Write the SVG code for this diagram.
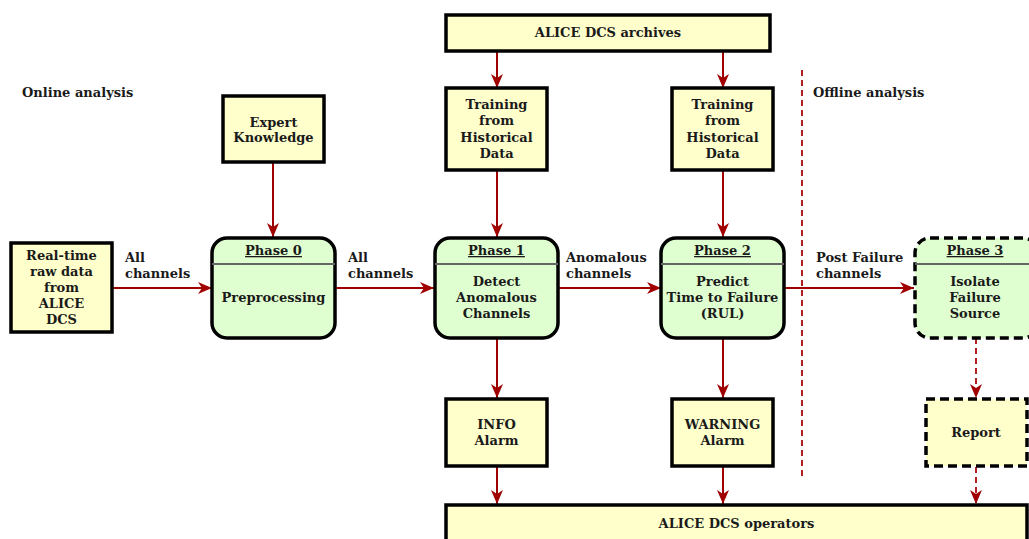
<svg xmlns="http://www.w3.org/2000/svg" width="1029" height="539" viewBox="0 0 1029 539">
<style>
text{font-family:"DejaVu Serif","Liberation Serif",serif;font-weight:bold;font-size:13px;fill:#1a1a1a}
.c{text-anchor:middle}
.box{fill:#ffffcc;stroke:#000;stroke-width:3.5}
.dbox{fill:#ffffcc;stroke:#000;stroke-width:3.5;stroke-dasharray:9 5}
.ph{fill:#e0ffd0;stroke:#000;stroke-width:3.5}
.dph{fill:#e0ffd0;stroke:#000;stroke-width:3.5;stroke-dasharray:9 5}
.div{stroke:#666;stroke-width:2}
.a{stroke:#a00000;stroke-width:2;fill:none;marker-end:url(#ah)}
.ad{stroke:#b02020;stroke-width:2;fill:none;stroke-dasharray:6 4;marker-end:url(#ah)}
.u{text-decoration:underline}
</style>
<defs>
<marker id="ah" markerUnits="userSpaceOnUse" markerWidth="16" markerHeight="14" refX="14" refY="6" orient="auto">
<path d="M0,0 L14,6 L0,12 L4,6 z" fill="#a00000"/>
</marker>
</defs>
<text x="22" y="97">Online analysis</text>
<text x="813" y="97">Offline analysis</text>
<g id="connectors">
<path class="a" d="M112,288 H212"/>
<path class="a" d="M335,288 H434"/>
<path class="a" d="M558,288 H661"/>
<path class="a" d="M784,288 H914"/>
<path class="a" d="M273,163 V237"/>
<path class="a" d="M497,52 V88"/>
<path class="a" d="M723,52 V88"/>
<path class="a" d="M497,170 V237"/>
<path class="a" d="M723,170 V237"/>
<path class="a" d="M497,338 V398"/>
<path class="a" d="M723,338 V398"/>
<path class="a" d="M497,466 V504"/>
<path class="a" d="M723,466 V504"/>
<path class="ad" d="M976,338 V398"/>
<path class="ad" d="M976,467 V504"/>
<path d="M802,70 V480" stroke="#b02020" stroke-width="2" stroke-dasharray="6 4"/>
<text x="125" y="262">All</text>
<text x="125" y="278">channels</text>
<text x="348" y="262">All</text>
<text x="348" y="278">channels</text>
<text x="566" y="262">Anomalous</text>
<text x="566" y="278">channels</text>
<text x="816" y="262">Post Failure</text>
<text x="816" y="278">channels</text>
</g>
<g id="realtime">
<rect class="box" x="11" y="243" width="101" height="89"/>
<text class="c" x="61.5" y="260">Real-time</text>
<text class="c" x="61.5" y="276">raw data</text>
<text class="c" x="61.5" y="292">from</text>
<text class="c" x="61.5" y="308">ALICE</text>
<text class="c" x="61.5" y="324">DCS</text>
</g>
<g id="expert">
<rect class="box" x="223" y="96" width="101" height="66"/>
<text class="c" x="273.5" y="127">Expert</text>
<text class="c" x="273.5" y="142">Knowledge</text>
</g>
<g id="archives">
<rect class="box" x="446" y="15" width="324" height="36"/>
<text class="c" x="608" y="37">ALICE DCS archives</text>
</g>
<g id="training1">
<rect class="box" x="446" y="88" width="101" height="82"/>
<text class="c" x="496.5" y="109">Training</text>
<text class="c" x="496.5" y="125">from</text>
<text class="c" x="496.5" y="142">Historical</text>
<text class="c" x="496.5" y="158">Data</text>
</g>
<g id="training2">
<rect class="box" x="672" y="88" width="101" height="82"/>
<text class="c" x="722.5" y="109">Training</text>
<text class="c" x="722.5" y="125">from</text>
<text class="c" x="722.5" y="142">Historical</text>
<text class="c" x="722.5" y="158">Data</text>
</g>
<g id="phase0">
<rect class="ph" x="212" y="238" width="123" height="100" rx="15"/>
<line class="div" x1="212" y1="264" x2="335" y2="264"/>
<text class="c u" x="273.5" y="255">Phase 0</text>
<text class="c" x="273.5" y="302">Preprocessing</text>
</g>
<g id="phase1">
<rect class="ph" x="435" y="238" width="123" height="100" rx="15"/>
<line class="div" x1="435" y1="264" x2="558" y2="264"/>
<text class="c u" x="496.5" y="255">Phase 1</text>
<text class="c" x="496.5" y="286">Detect</text>
<text class="c" x="496.5" y="302">Anomalous</text>
<text class="c" x="496.5" y="318">Channels</text>
</g>
<g id="phase2">
<rect class="ph" x="661" y="238" width="123" height="100" rx="15"/>
<line class="div" x1="661" y1="264" x2="784" y2="264"/>
<text class="c u" x="722.5" y="255">Phase 2</text>
<text class="c" x="722.5" y="286">Predict</text>
<text class="c" x="722.5" y="302">Time to Failure</text>
<text class="c" x="722.5" y="318">(RUL)</text>
</g>
<g id="phase3">
<rect class="dph" x="915" y="238" width="123" height="100" rx="15"/>
<line class="div" x1="915" y1="264" x2="1029" y2="264"/>
<text class="c u" x="975" y="255">Phase 3</text>
<text class="c" x="975" y="286">Isolate</text>
<text class="c" x="975" y="302">Failure</text>
<text class="c" x="975" y="318">Source</text>
</g>
<g id="info">
<rect class="box" x="446" y="399" width="101" height="67"/>
<text class="c" x="496.5" y="429">INFO</text>
<text class="c" x="496.5" y="445">Alarm</text>
</g>
<g id="warning">
<rect class="box" x="672" y="399" width="101" height="67"/>
<text class="c" x="722.5" y="429">WARNING</text>
<text class="c" x="722.5" y="445">Alarm</text>
</g>
<g id="report">
<rect class="dbox" x="926" y="399" width="101" height="67"/>
<text class="c" x="976" y="437">Report</text>
</g>
<g id="operators">
<rect class="box" x="446" y="505" width="581" height="40"/>
<text class="c" x="736.5" y="528">ALICE DCS operators</text>
</g>
</svg>
